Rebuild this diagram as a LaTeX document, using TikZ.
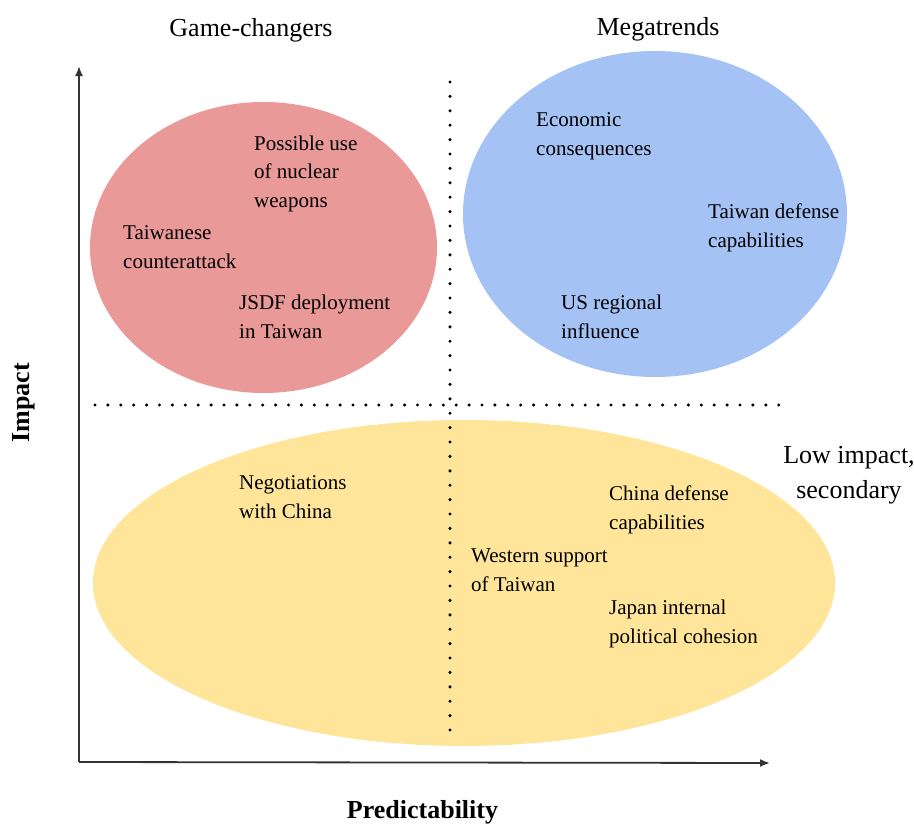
\documentclass[tikz,border=0pt]{standalone}
\usepackage{fontspec}
\setmainfont{Liberation Serif}
\usetikzlibrary{shapes.geometric, arrows.meta}

\definecolor{gcred}{HTML}{EA9999}
\definecolor{mtblue}{HTML}{A4C2F4}
\definecolor{lowyellow}{HTML}{FFE599}

\begin{document}
\begin{tikzpicture}[x=1pt, y=-1pt, blob/.style = {ellipse, inner sep=0pt, draw=none}]
	\tikzset{edge/.style = {->,> = {Latex[length=10pt, width=8pt]}, line width=1.8pt, black!80}}
	\tikzset{dotline/.style = {line width=3.4pt, line cap=round, dash pattern=on 0pt off #1}}
	\tikzset{item/.style = {anchor=base west, align=left, inner sep=0pt, font=\fontsize{21}{28.5}\selectfont}}
	\tikzset{head/.style = {anchor=base, align=center, inner sep=0pt, font=\fontsize{26}{35}\selectfont}}
	\useasboundingbox (0,0) rectangle (914,825);
	
		% the three groups
		\node[blob, fill=gcred, minimum width=347pt, minimum height=291pt] (red) at (263.5,247.5) {};
		\node[blob, fill=mtblue, minimum width=384pt, minimum height=326pt] (blue) at (655,214) {};
		\node[blob, fill=lowyellow, minimum width=742pt, minimum height=326pt] (yellow) at (464,583) {};
		
		% quadrant lines
		\coordinate (vtop) at (450,82);
		\coordinate (vbot) at (450,734);
		\coordinate (hleft) at (95,405);
		\coordinate (hright) at (782,405);
		\draw[dotline=14.4pt] (vtop) -- (vbot);
		\draw[dotline=12.9pt] (hleft) -- (hright);
		
		% axes
		\coordinate (origin) at (79,762);
		\coordinate (ytop) at (79,66);
		\coordinate (xend) at (770,763);
		\draw[edge] (origin) -- (ytop);
		\draw[edge] (origin) -- (xend);
		
		% (multi-line nodes sit on the baseline of their last line)
		\node[head] (gamech) at (251,36) {Game-changers};
		\node[head] (megatr) at (658,35) {Megatrends};
		\node[head] (lowimp) at (849,498) {Low impact,\\secondary};
		\node[head, font=\fontsize{26}{35}\selectfont\bfseries] (predict) at (422.5,818) {Predictability};
		\node[head, font=\fontsize{26}{35}\selectfont\bfseries, rotate=90] (impact) at (30,403) {Impact};
		
		\node[item] (nuclear) at (254,207) {Possible use\\of nuclear\\weapons};
		\node[item] (counter) at (123,268) {Taiwanese\\counterattack};
		\node[item] (jsdf) at (239,338) {JSDF deployment\\in Taiwan};
		
		\node[item] (econ) at (536,155) {Economic\\consequences};
		\node[item] (twdef) at (708,247) {Taiwan defense\\capabilities};
		\node[item] (usinf) at (561,338) {US regional\\influence};
		
		\node[item] (negot) at (239,518) {Negotiations\\with China};
		\node[item] (cndef) at (609,529) {China defense\\capabilities};
		\node[item] (western) at (471,591) {Western support\\of Taiwan};
		\node[item] (japan) at (609,643) {Japan internal\\political cohesion};
	\end{tikzpicture}
\end{document}
